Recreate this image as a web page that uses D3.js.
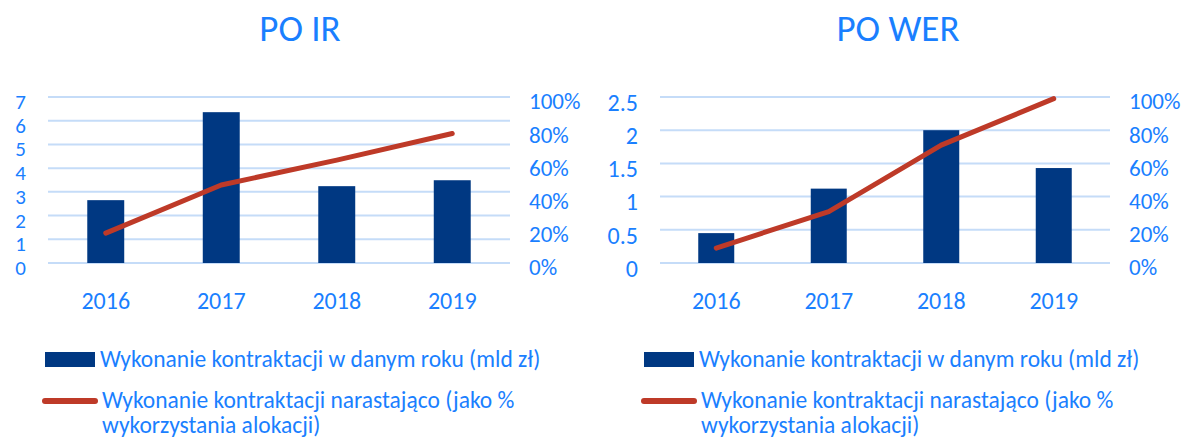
<!DOCTYPE html>
<meta charset="utf-8">
<style>
body { margin: 0; background: #fff; }
text { font-family: Calibri, Carlito, Lato, sans-serif; fill: #1a7fff; }
.grid line { stroke: #c5dcf8; stroke-width: 2px; }
</style>
<body>
<script src="https://d3js.org/d3.v7.min.js"></script>
<script>

// data
var years = ["2016", "2017", "2018", "2019"];

var irTitle = "PO IR";
var irValues = [2.65, 6.36, 3.24, 3.49];   // mld zł
var irShare = [0.18, 0.47, 0.62, 0.78];    // cumulative share of allocation
var irTicks = [0, 1, 2, 3, 4, 5, 6, 7];

var werTitle = "PO WER";
var werValues = [0.45, 1.12, 2.0, 1.43];
var werShare = [0.09, 0.31, 0.71, 0.99];
var werTicks = [0, 0.5, 1, 1.5, 2, 2.5];

var pctTicks = [0, 0.2, 0.4, 0.6, 0.8, 1];

var barLabel = "Wykonanie kontraktacji w danym roku (mld zł)";
var lineLabel = ["Wykonanie kontraktacji narastająco (jako %", "wykorzystania alokacji)"];

var barColor = "#003882",
    lineColor = "#be3a28";

var svg = d3.select("body").append("svg")
    .attr("width", 1184)
    .attr("height", 440);

// one chart panel
function drawChart(opts) {
  var g = svg.append("g");

  var x = d3.scaleBand()
      .domain(years)
      .range([opts.left, opts.right])
      .paddingInner(0.68)
      .paddingOuter(0.34);

  var y = d3.scaleLinear()
      .domain([0, d3.max(opts.ticks)])
      .range([263, 97]);

  var y2 = d3.scaleLinear()
      .domain([0, 1])
      .range([263, 97]);

  // title
  g.append("text")
      .attr("x", opts.titleX)
      .attr("y", 41)
      .attr("text-anchor", "middle")
      .style("font-size", "37px")
      .text(opts.title);

  // gridlines
  g.append("g")
      .attr("class", "grid")
    .selectAll("line")
    .data(opts.ticks)
    .enter().append("line")
      .attr("x1", opts.left)
      .attr("x2", opts.right)
      .attr("y1", function(d) { return y(d); })
      .attr("y2", function(d) { return y(d); });

  // left axis
  var left = g.append("g")
      .attr("transform", "translate(" + (opts.left - 22) + ",0)")
      .call(d3.axisLeft(y).tickValues(opts.ticks).tickSize(0).tickPadding(0)
        .tickFormat(d3.format("")));
  left.select(".domain").remove();
  left.selectAll("text")
      .attr("dy", "0.55em")
      .style("font-size", opts.tickFont);

  // right axis (percent)
  var right = g.append("g")
      .attr("transform", "translate(" + (opts.right + 19) + ",0)")
      .call(d3.axisRight(y2).tickValues(pctTicks).tickSize(0).tickPadding(0)
        .tickFormat(d3.format(".0%")));
  right.select(".domain").remove();
  right.selectAll("text")
      .attr("dy", "0.52em")
      .style("font-size", "23px");

  // bottom axis
  var bottom = g.append("g")
      .attr("transform", "translate(0,263)")
      .call(d3.axisBottom(x).tickSize(0).tickPadding(0));
  bottom.select(".domain").remove();
  bottom.selectAll("text")
      .attr("y", 46)
      .attr("dy", 0)
      .style("font-size", "24px");

  // bars
  g.selectAll(".bar")
      .data(opts.values)
    .enter().append("rect")
      .attr("class", "bar")
      .attr("x", function(d, i) { return x(years[i]); })
      .attr("width", x.bandwidth())
      .attr("y", function(d) { return y(d); })
      .attr("height", function(d) { return y(0) - y(d); })
      .attr("fill", barColor);

  // cumulative line
  var line = d3.line()
      .x(function(d, i) { return x(years[i]) + x.bandwidth() / 2; })
      .y(function(d) { return y2(d); });

  g.append("path")
      .datum(opts.share)
      .attr("d", line)
      .attr("fill", "none")
      .attr("stroke", lineColor)
      .attr("stroke-width", 5)
      .attr("stroke-linecap", "round")
      .attr("stroke-linejoin", "round");

  // legend
  var lg = g.append("g")
      .attr("transform", "translate(" + opts.legendX + ",0)");

  lg.append("rect")
      .attr("x", 0)
      .attr("y", 352)
      .attr("width", 50)
      .attr("height", 15)
      .attr("fill", barColor);

  lg.append("text")
      .attr("x", 55)
      .attr("y", 367)
      .style("font-size", "23.5px")
      .text(barLabel);

  lg.append("line")
      .attr("x1", 0)
      .attr("x2", 50)
      .attr("y1", 401)
      .attr("y2", 401)
      .attr("stroke", lineColor)
      .attr("stroke-width", 6)
      .attr("stroke-linecap", "round");

  lg.selectAll(".lline")
      .data(lineLabel)
    .enter().append("text")
      .attr("class", "lline")
      .attr("x", 57)
      .attr("y", function(d, i) { return 408 + i * 25; })
      .style("font-size", "23.5px")
      .text(function(d) { return d; });
}

drawChart({
  title: irTitle, titleX: 300,
  values: irValues, share: irShare, ticks: irTicks, tickFont: "21px",
  left: 48, right: 510, legendX: 45
});

drawChart({
  title: werTitle, titleX: 898,
  values: werValues, share: werShare, ticks: werTicks, tickFont: "24px",
  left: 660, right: 1110, legendX: 644
});

</script>
</body>
